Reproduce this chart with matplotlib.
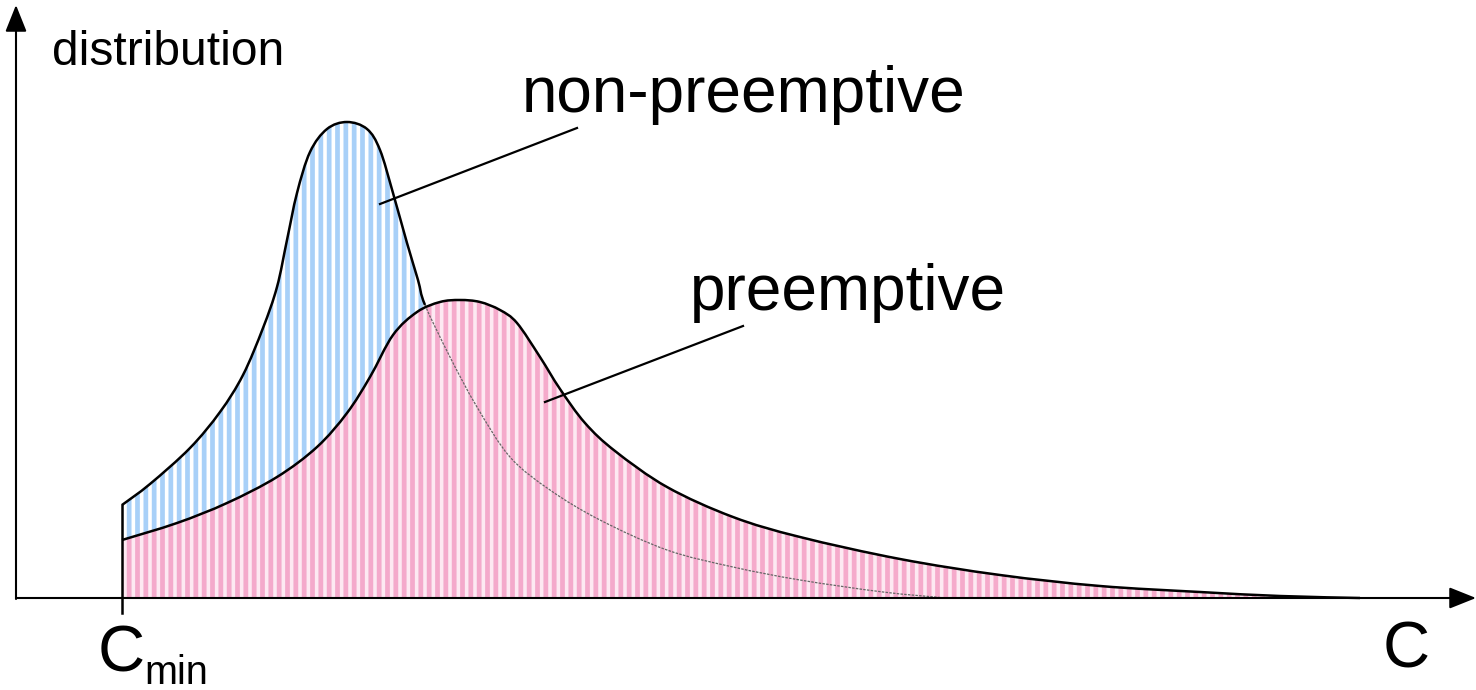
import numpy as np
import matplotlib.pyplot as plt
from matplotlib.path import Path
from matplotlib.patches import PathPatch

plt.switch_backend('Agg')
plt.rcParams['font.family'] = ['Liberation Sans', 'DejaVu Sans']
plt.rcParams['hatch.linewidth'] = 3.4

# --- 데이터 (픽셀 좌표로 읽은 값, y는 아래로 증가) ---
BASE_Y = 598
C_MIN_X = 122

# non-preemptive: 실선 구간
nonpre_x = [122, 150, 190, 220, 243, 263, 277, 287, 297, 310, 327, 347, 367, 380, 393, 407, 418, 425]
nonpre_y = [505, 484, 448, 412, 375, 328, 287, 240, 193, 152, 129, 122, 129, 150, 193, 243, 280, 305]
# non-preemptive: 점선 꼬리 구간
nonpre_tail_x = [425, 450, 477, 510, 550, 600, 667, 733, 800, 883, 946]
nonpre_tail_y = [305, 357, 407, 457, 490, 520, 550, 567, 580, 592, 598]

# preemptive
pre_x = [122, 177, 227, 277, 317, 347, 370, 393, 417, 440, 460, 480, 500, 517, 540, 560, 585,
         615, 667, 733, 800, 900, 1000, 1100, 1200, 1280, 1360]
pre_y = [540, 523, 503, 477, 447, 413, 377, 335, 312, 302, 300, 302, 310, 323, 357, 389, 423,
         451, 487, 517, 537, 559, 575, 586, 592, 596, 598]

labels = ["non-preemptive", "preemptive"]
label_pos = [(522, 112), (690, 310)]
leader_lines = [((380, 204), (577, 128)), ((545, 402), (743, 326))]

BLUE = '#a8d0f8'
PINK = '#f5a3c7'
PINK_BG = '#fde6f0'


def bezier_segments(xs, ys):
    # 읽은 점들을 지나는 부드러운 곡선 (Catmull-Rom -> Bezier)
    p = np.column_stack([xs, ys]).astype(float)
    n = len(p)
    segs = []
    for i in range(n - 1):
        p0 = p[i - 1] if i > 0 else p[i]
        p3 = p[i + 2] if i + 2 < n else p[i + 1]
        c1 = p[i] + (p[i + 1] - p0) / 6
        c2 = p[i + 1] - (p3 - p[i]) / 6
        segs.append((p[i], c1, c2, p[i + 1]))
    return segs


def curve_path(segs, close_base=None):
    verts = [segs[0][0]]
    codes = [Path.MOVETO]
    if close_base is not None:
        verts = [(segs[0][0][0], close_base), segs[0][0]]
        codes = [Path.MOVETO, Path.LINETO]
    for _, c1, c2, e in segs:
        verts += [c1, c2, e]
        codes += [Path.CURVE4] * 3
    if close_base is not None:
        verts += [(segs[-1][3][0], close_base), verts[0]]
        codes += [Path.LINETO, Path.CLOSEPOLY]
    return Path(verts, codes)


fig = plt.figure(figsize=(14.76, 6.9), dpi=100, facecolor='white')
ax = fig.add_axes([0, 0, 1, 1])
ax.set_xlim(0, 1476)
ax.set_ylim(690, 0)
ax.axis('off')

blue_segs = bezier_segments(nonpre_x + nonpre_tail_x[1:], nonpre_y + nonpre_tail_y[1:])
n_solid = len(nonpre_x) - 1
pink_segs = bezier_segments(pre_x, pre_y)

# 파란 영역 (non-preemptive)
ax.add_patch(PathPatch(curve_path(blue_segs, BASE_Y), facecolor='white', edgecolor='none', zorder=1))
ax.add_patch(PathPatch(curve_path(blue_segs, BASE_Y), facecolor='none', edgecolor=BLUE,
                       hatch='||', linewidth=0, zorder=2))

# 분홍 영역 (preemptive)
ax.add_patch(PathPatch(curve_path(pink_segs, BASE_Y), facecolor=PINK_BG, edgecolor='none',
                       alpha=0.85, zorder=3))
ax.add_patch(PathPatch(curve_path(pink_segs, BASE_Y), facecolor='none', edgecolor=PINK,
                       hatch='||', linewidth=0, alpha=0.9, zorder=4))

# 외곽선
ax.add_patch(PathPatch(curve_path(blue_segs[n_solid:]), facecolor='none', edgecolor='#666666',
                       lw=0.9, ls=(0, (2, 1)), zorder=5))
ax.add_patch(PathPatch(curve_path(blue_segs[:n_solid]), facecolor='none', edgecolor='black',
                       lw=1.8, zorder=6))
ax.add_patch(PathPatch(curve_path(pink_segs), facecolor='none', edgecolor='black', lw=1.8, zorder=6))
ax.plot([C_MIN_X, C_MIN_X], [613, nonpre_y[0]], color='black', lw=1.8, zorder=6)

# 축 화살표
arrow = dict(arrowstyle='-|>,head_length=0.55,head_width=0.22', mutation_scale=30,
             lw=1.5, color='black', shrinkA=0, shrinkB=0)
ax.annotate('', xy=(1476, BASE_Y), xytext=(16, BASE_Y), arrowprops=arrow, zorder=7)
ax.annotate('', xy=(16, 5), xytext=(16, BASE_Y + 1), arrowprops=arrow, zorder=7)

# 라벨 및 지시선
for text, (tx, ty), (p0, p1) in zip(labels, label_pos, leader_lines):
    ax.text(tx, ty, text, fontsize=46, ha='left', va='baseline', zorder=8)
    ax.plot([p0[0], p1[0]], [p0[1], p1[1]], color='black', lw=1.6, zorder=8)

ax.text(52, 65, "distribution", fontsize=34.5, ha='left', va='baseline')
ax.text(98, 672, "C", fontsize=47, ha='left', va='baseline')
ax.text(144, 684, "min", fontsize=28.5, ha='left', va='baseline')
ax.text(1383, 668, "C", fontsize=47, ha='left', va='baseline')

fig.savefig('out.png', dpi=100, facecolor='white')
plt.close()
